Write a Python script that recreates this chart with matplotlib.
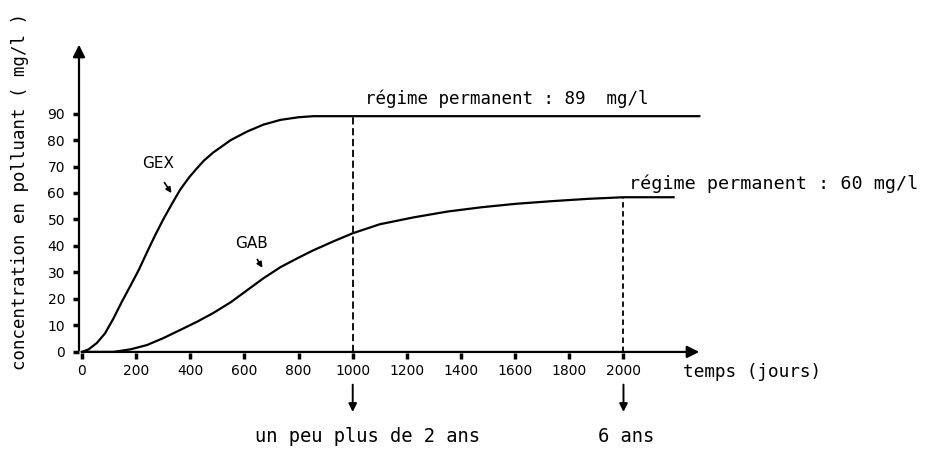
import numpy as np
import matplotlib.pyplot as plt

# concentration curves (days, mg/l)
gex_t = [0, 25, 55, 85, 115, 145, 178, 210, 240, 270, 300, 330, 363, 395, 420, 450,
         485, 550, 610, 670, 733, 800, 855, 1000, 2280]
gex_c = [0, 1, 3.4, 7, 12.4, 18.5, 24.8, 31, 37.6, 44, 50, 55.5, 61.3, 65.8, 68.8, 72.2,
         75.3, 80, 83.2, 85.8, 87.6, 88.6, 89, 89, 89]
gab_t = [0, 115, 180, 240, 300, 363, 425, 485, 550, 610, 670, 733, 800, 855, 930,
         1000, 1100, 1225, 1350, 1474, 1600, 1733, 1870, 2000, 2185]
gab_c = [0, 0, 1, 2.6, 5.2, 8.3, 11.4, 14.7, 18.8, 23.3, 27.8, 32, 35.6, 38.4, 41.8,
         44.8, 48.2, 50.8, 53, 54.6, 55.9, 56.9, 57.8, 58.4, 58.4]
xticks = [0, 200, 400, 600, 800, 1000, 1200, 1400, 1600, 1800, 2000]
yticks = [0, 10, 20, 30, 40, 50, 60, 70, 80, 90]
steady_gex = 89
steady_gab = 58.4

mono = 'DejaVu Sans Mono'

fig = plt.figure(figsize=(9.26, 4.57), dpi=100)
ax = fig.add_axes([79/926, 1-353/457, (702-79)/926, (353-42)/457])
ax.set_xlim(-11, 2290)
ax.set_ylim(-0.4, 117)

ax.plot(gex_t, gex_c, color='k', lw=1.6)
ax.plot(gab_t, gab_c, color='k', lw=1.6)
ax.plot([1000, 1000], [0, steady_gex], color='k', lw=1.3, ls=(0, (4, 2)))
ax.plot([2000, 2000], [0, steady_gab], color='k', lw=1.3, ls=(0, (3, 2)))

for s in ax.spines.values():
    s.set_visible(False)
ax.annotate('', xy=(2290, 0), xytext=(-11, 0),
            arrowprops=dict(arrowstyle='-|>', color='k', lw=1.6, mutation_scale=18))
ax.annotate('', xy=(-11, 117), xytext=(-11, -0.4),
            arrowprops=dict(arrowstyle='-|>', color='k', lw=1.6, mutation_scale=18))

ax.set_xticks(xticks)
ax.set_yticks(yticks)
ax.tick_params(axis='x', direction='out', length=4, width=2.5, labelsize=10, pad=4)
ax.tick_params(axis='y', direction='out', length=4, width=2.5, labelsize=10, pad=6)

ax.text(1044, 95.6, 'régime permanent : 89  mg/l', family=mono, fontsize=12.6,
        va='center', ha='left')
ax.text(2022, 63.6, 'régime permanent : 60 mg/l', family=mono, fontsize=13.2,
        va='center', ha='left', clip_on=False)
ax.text(2218, -7.5, 'temps (jours)', family=mono, fontsize=12.8, va='center',
        ha='left', clip_on=False)

ax.text(280, 71.2, 'GEX', fontsize=11, ha='center', va='center')
ax.annotate('', xy=(336, 59.1), xytext=(299, 64.8),
            arrowprops=dict(arrowstyle='-|>', color='k', lw=1.2, mutation_scale=8))
ax.text(627, 41, 'GAB', fontsize=11, ha='center', va='center')
ax.annotate('', xy=(672, 30.9), xytext=(642, 35.8),
            arrowprops=dict(arrowstyle='-|>', color='k', lw=1.2, mutation_scale=8))

for t in (1000, 2000):
    ax.annotate('', xy=(t, -23.7), xytext=(t, -11.3), annotation_clip=False,
                arrowprops=dict(arrowstyle='-|>', color='k', lw=1.4, mutation_scale=12))
ax.text(1055, -32, 'un peu plus de 2 ans', family=mono, fontsize=13.5,
        ha='center', va='center', clip_on=False)
ax.text(2010, -32, '6 ans', family=mono, fontsize=13.5, ha='center', va='center',
        clip_on=False)

fig.text(20/926, 1-191/457, 'concentration en polluant ( mg/l )', family=mono,
         fontsize=12.5, rotation=90, ha='center', va='center')

fig.savefig('out.png', dpi=100)
